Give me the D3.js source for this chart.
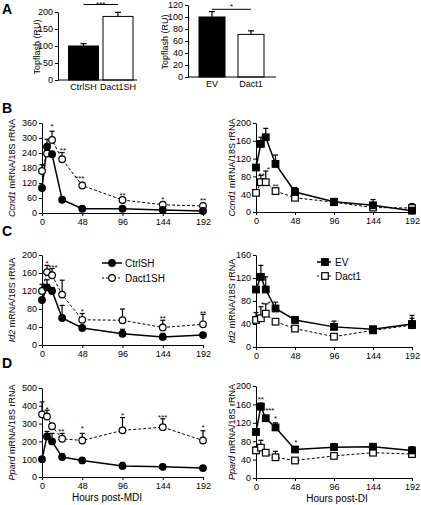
<!DOCTYPE html>
<html><head><meta charset="utf-8">
<script src="https://cdn.jsdelivr.net/npm/d3@7"></script>
<style>
body{margin:0;background:#fff}
text{font-family:Arial,"Liberation Sans",sans-serif;fill:#000}
</style>
</head><body><svg id="c" width="421" height="505"></svg>
<script>
// ---------- DATA ----------
const hours = [0, 6, 12, 24, 48, 96, 144, 192];
const hourTicks = [0, 48, 96, 144, 192];

// Panel A (Topflash)
const aLeftCats = ["CtrlSH", "Dact1SH"];
const aLeftVals = [100, 187];
const aLeftErr = [7, 12];
const aLeftTicks = [0, 50, 100, 150, 200];
const aRightCats = ["EV", "Dact1"];
const aRightVals = [100, 71];
const aRightErr = [9, 6];
const aRightTicks = [0, 20, 40, 60, 80, 100, 120];

// Panel B (Ccnd1)
const ccnd1Ctrl = [100, 265, 235, 53, 17, 17, 12, 8];
const ccnd1CtrlErr = [0, 30, 10, 6, 5, 5, 5, 4];
const ccnd1DactSH = [168, 238, 292, 215, 110, 52, 33, 28];
const ccnd1DactSHErr = [25, 12, 35, 27, 12, 9, 8, 10];
const ccnd1StarsL = [[12, 355, "*"], [25, 258, "**"], [45, 148, "***"], [96, 78, "**"], [144, 62, "*"], [192, 60, "**"]];
const ccnd1EV = [100, 153, 168, 108, 45, 23, 15, 3];
const ccnd1EVErr = [0, 15, 20, 20, 10, 5, 13, 5];
const ccnd1Dact1 = [43, 67, 67, 47, 32, 22, 10, 9];
const ccnd1Dact1Err = [0, 15, 25, 6, 3, 3, 3, 10];
const ccnd1StarsR = [[7, 86, "**"], [15, 100, "*"], [24, 62, "**"]];

// Panel C (Id2)
const id2Ctrl = [100, 128, 120, 60, 38, 25, 18, 22];
const id2CtrlErr = [0, 17, 8, 28, 5, 10, 8, 5];
const id2DactSH = [120, 162, 155, 112, 56, 55, 39, 46];
const id2DactSHErr = [15, 15, 15, 32, 14, 25, 16, 22];
const id2StarsL = [[6, 185, "*"], [13, 176, "***"], [48, 80, "*"], [144, 64, "**"], [192, 74, "**"]];
const id2EV = [100, 122, 100, 67, 47, 35, 31, 40];
const id2EVErr = [0, 20, 22, 11, 6, 10, 4, 15];
const id2Dact1 = [47, 50, 58, 44, 32, 18, 29, 38];
const id2Dact1Err = [13, 20, 17, 0, 0, 0, 0, 12];
const id2StarsR = [[8, 78, "*"], [16, 80, "*"]];

// Panel D (Ppard)
const ppardCtrl = [100, 228, 200, 112, 93, 62, 57, 50];
const ppardCtrlErr = [0, 28, 45, 20, 5, 20, 5, 5];
const ppardDactSH = [352, 340, 285, 215, 205, 262, 280, 205];
const ppardDactSHErr = [70, 35, 15, 30, 40, 72, 47, 55];
const ppardStarsL = [[6, 392, "*"], [23, 270, "**"], [48, 283, "*"], [96, 355, "*"], [144, 345, "***"], [192, 289, "*"]];
const ppardEV = [100, 155, 130, 110, 62, 67, 68, 60];
const ppardEVErr = [0, 8, 5, 10, 6, 8, 5, 8];
const ppardDact1 = [60, 66, 55, 45, 38, 48, 55, 52];
const ppardDact1Err = [8, 16, 0, 13, 0, 0, 0, 0];
const ppardStarsR = [[6, 175, "**"], [17, 152, "***"], [24, 133, "*"], [49, 82, "*"]];

const legendLeft = ["CtrlSH", "Dact1SH"];
const legendRight = ["EV", "Dact1"];

// ---------- DRAW ----------
const svg = d3.select("#c");
const FS = 9;
const STAR_DY = 4.6;

function styleAxis(g) {
  g.selectAll("text").style("font-size", FS + "px").attr("fill", "#000");
  g.selectAll("path,line").attr("stroke", "#000").attr("stroke-width", 1);
}

function panelLetter(t, x, y) {
  svg.append("text").attr("x", x).attr("y", y).text(t)
    .style("font-size", "14px").style("font-weight", "bold");
}

function yLabel(x, y, italic, rest) {
  const t = svg.append("text").attr("transform", `translate(${x},${y}) rotate(-90)`)
    .attr("text-anchor", "middle").attr("dominant-baseline", "central").style("font-size", FS + "px");
  if (italic) t.append("tspan").style("font-style", "italic").text(italic);
  t.append("tspan").text(rest);
}

function barPanel(c) {
  const y = d3.scaleLinear().domain([0, c.ticks[c.ticks.length - 1]]).range([c.y0, c.y1]);
  const x = d3.scaleBand().domain(c.cats).range([c.x0, c.x1]).paddingInner(c.pin).paddingOuter(0);
  const gy = svg.append("g").attr("transform", `translate(${c.ax},0)`)
    .call(d3.axisLeft(y).tickValues(c.ticks).tickSize(3).tickSizeOuter(0).tickPadding(2));
  styleAxis(gy);
  c.cats.forEach((k, i) => {
    const cx = x(k) + x.bandwidth() / 2;
    const top = y(c.vals[i] + c.errs[i]);
    svg.append("line").attr("x1", cx).attr("x2", cx).attr("y1", y(c.vals[i])).attr("y2", top).attr("stroke", "#000").attr("stroke-width", 1.2);
    svg.append("line").attr("x1", cx - 3).attr("x2", cx + 3).attr("y1", top).attr("y2", top).attr("stroke", "#000").attr("stroke-width", 1.2);
  });
  svg.selectAll(null).data(c.cats).enter().append("rect")
    .attr("x", d => x(d)).attr("width", x.bandwidth())
    .attr("y", (d, i) => y(c.vals[i])).attr("height", (d, i) => c.y0 - y(c.vals[i]))
    .attr("fill", (d, i) => i === 0 ? "#000" : "#fff").attr("stroke", "#000").attr("stroke-width", 1);
  svg.append("line").attr("x1", c.ax).attr("x2", c.axEnd).attr("y1", c.y0).attr("y2", c.y0).attr("stroke", "#000").attr("stroke-width", 1);
  svg.selectAll(null).data(c.cats).enter().append("text")
    .attr("x", d => x(d) + x.bandwidth() / 2).attr("y", c.y0 + 10)
    .attr("text-anchor", "middle").style("font-size", FS + "px").text(d => d);
  const c1 = x(c.cats[0]) + x.bandwidth() / 2, c2 = x(c.cats[1]) + x.bandwidth() / 2;
  svg.append("line").attr("x1", c1).attr("x2", c2).attr("y1", c.sigY).attr("y2", c.sigY).attr("stroke", "#000").attr("stroke-width", 1);
  svg.append("text").attr("x", (c1 + c2) / 2).attr("y", c.starY).attr("text-anchor", "middle").style("font-size", "8px").text(c.sig);
  yLabel(c.labX, (c.y0 + c.y1) / 2 + 1, null, "Topflash (RU)");
}

function drawMarker(px, py, shape, open) {
  if (shape === "circle") {
    svg.append("circle").attr("cx", px).attr("cy", py).attr("r", 3.3)
      .attr("fill", open ? "#fff" : "#000").attr("stroke", "#000").attr("stroke-width", 1.2);
  } else {
    svg.append("rect").attr("x", px - 3.3).attr("y", py - 3.3).attr("width", 6.6).attr("height", 6.6)
      .attr("fill", open ? "#fff" : "#000").attr("stroke", "#000").attr("stroke-width", 1.2);
  }
}

function linePanel(c) {
  const x = d3.scaleLinear().domain([0, 192]).range([c.x0, c.x1]);
  const y = d3.scaleLinear().domain([0, c.ticks[c.ticks.length - 1]]).range([c.y0, c.y1]);
  const gy = svg.append("g").attr("transform", `translate(${c.x0},0)`)
    .call(d3.axisLeft(y).tickValues(c.ticks).tickSize(3).tickSizeOuter(0).tickPadding(2));
  styleAxis(gy);
  const gx = svg.append("g").attr("transform", `translate(0,${c.y0})`)
    .call(d3.axisBottom(x).tickValues(hourTicks).tickSize(3).tickSizeOuter(0).tickPadding(3));
  styleAxis(gx);
  const line = d3.line().x((d, i) => x(hours[i])).y(d => y(d));
  c.series.forEach(s => {
    s.vals.forEach((v, i) => {
      if (!s.errs[i]) return;
      const px = x(hours[i]), top = y(v + s.errs[i]);
      svg.append("line").attr("x1", px).attr("x2", px).attr("y1", y(v)).attr("y2", top).attr("stroke", "#000").attr("stroke-width", 1.2);
      svg.append("line").attr("x1", px - 2.5).attr("x2", px + 2.5).attr("y1", top).attr("y2", top).attr("stroke", "#000").attr("stroke-width", 1.2);
    });
  });
  c.series.forEach(s => {
    svg.append("path").datum(s.vals).attr("d", line).attr("fill", "none").attr("stroke", "#000")
      .attr("stroke-width", s.open ? 1 : 1.5).attr("stroke-dasharray", s.open ? "3,2" : null);
  });
  c.series.forEach(s => {
    s.vals.forEach((v, i) => drawMarker(x(hours[i]), y(v), c.shape, s.open));
  });
  c.stars.forEach(st => {
    svg.append("text").attr("x", x(st[0])).attr("y", y(st[1]) + STAR_DY).attr("text-anchor", "middle").style("font-size", "8px").text(st[2]);
  });
  yLabel(c.labX, (c.y0 + c.y1) / 2, c.gene, " mRNA/18S rRNA");
  if (c.xlabel) {
    svg.append("text").attr("x", c.xlabX).attr("y", c.y0 + 24).attr("text-anchor", "middle").style("font-size", "10px").text(c.xlabel);
  }
}

function legend(x0, x1, mx, tx, ys, names, shape) {
  names.forEach((n, i) => {
    const open = i === 1;
    svg.append("line").attr("x1", x0).attr("x2", x1).attr("y1", ys[i]).attr("y2", ys[i]).attr("stroke", "#000")
      .attr("stroke-width", open ? 1 : 1.5).attr("stroke-dasharray", open ? "2,2" : null);
    drawMarker(mx, ys[i], shape, open);
    svg.append("text").attr("x", tx).attr("y", ys[i]).attr("dominant-baseline", "central").style("font-size", "10px").text(n);
  });
}

panelLetter("A", 2, 14);
panelLetter("B", 2, 113);
panelLetter("C", 2, 236);
panelLetter("D", 2, 368);

barPanel({cats: aLeftCats, vals: aLeftVals, errs: aLeftErr, ticks: aLeftTicks, y0: 80, y1: 12,
  x0: 68.5, x1: 133, pin: 0.13, ax: 58, axEnd: 137, sigY: 4.5, starY: 7, sig: "***", labX: 37});
barPanel({cats: aRightCats, vals: aRightVals, errs: aRightErr, ticks: aRightTicks, y0: 77, y1: 5,
  x0: 199, x1: 264, pin: 0.333, ax: 188, axEnd: 276, sigY: 9.3, starY: 8.5, sig: "*", labX: 165});

const leftX = [42, 203], rightX = [256, 412];
linePanel({x0: leftX[0], x1: leftX[1], y0: 213, y1: 123, ticks: [0, 60, 120, 180, 240, 300, 360], shape: "circle",
  series: [{vals: ccnd1DactSH, errs: ccnd1DactSHErr, open: true}, {vals: ccnd1Ctrl, errs: ccnd1CtrlErr, open: false}],
  stars: ccnd1StarsL, gene: "Ccnd1", labX: 12});
linePanel({x0: rightX[0], x1: rightX[1], y0: 212, y1: 123, ticks: [0, 40, 80, 120, 160, 200], shape: "square",
  series: [{vals: ccnd1Dact1, errs: ccnd1Dact1Err, open: true}, {vals: ccnd1EV, errs: ccnd1EVErr, open: false}],
  stars: ccnd1StarsR, gene: "Ccnd1", labX: 232});
linePanel({x0: leftX[0], x1: leftX[1], y0: 345, y1: 255, ticks: [0, 40, 80, 120, 160, 200], shape: "circle",
  series: [{vals: id2DactSH, errs: id2DactSHErr, open: true}, {vals: id2Ctrl, errs: id2CtrlErr, open: false}],
  stars: id2StarsL, gene: "Id2", labX: 12});
linePanel({x0: rightX[0], x1: rightX[1], y0: 347, y1: 255, ticks: [0, 40, 80, 120, 160], shape: "square",
  series: [{vals: id2Dact1, errs: id2Dact1Err, open: true}, {vals: id2EV, errs: id2EVErr, open: false}],
  stars: id2StarsR, gene: "Id2", labX: 232});
linePanel({x0: leftX[0], x1: leftX[1], y0: 477, y1: 388, ticks: [0, 100, 200, 300, 400, 500], shape: "circle",
  series: [{vals: ppardDactSH, errs: ppardDactSHErr, open: true}, {vals: ppardCtrl, errs: ppardCtrlErr, open: false}],
  stars: ppardStarsL, gene: "Ppard", labX: 12, xlabel: "Hours post-MDI", xlabX: 107});
linePanel({x0: rightX[0], x1: rightX[1], y0: 478, y1: 386, ticks: [0, 40, 80, 120, 160, 200], shape: "square",
  series: [{vals: ppardDact1, errs: ppardDact1Err, open: true}, {vals: ppardEV, errs: ppardEVErr, open: false}],
  stars: ppardStarsR, gene: "Ppard", labX: 232, xlabel: "Hours post-DI", xlabX: 337});

legend(102, 122, 112, 125, [263, 278], legendLeft, "circle");
legend(317, 331, 325, 335, [262, 276], legendRight, "square");
</script>
</body></html>
